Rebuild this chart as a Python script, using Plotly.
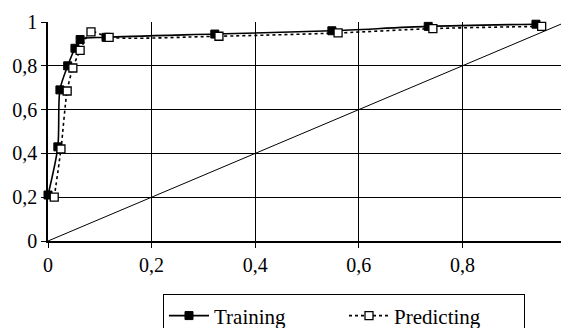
import plotly.graph_objects as go

train_x = [0.0, 0.019, 0.023, 0.038, 0.052, 0.062, 0.112, 0.322, 0.548, 0.734, 0.942]
train_y = [0.21, 0.43, 0.69, 0.80, 0.88, 0.92, 0.93, 0.945, 0.96, 0.98, 0.99]

pred_x = [0.012, 0.025, 0.037, 0.048, 0.062, 0.083, 0.118, 0.33, 0.56, 0.743, 0.953]
pred_y = [0.20, 0.42, 0.685, 0.79, 0.87, 0.955, 0.93, 0.935, 0.95, 0.97, 0.98]

diag_x = [0, 1]
diag_y = [0, 1]

tick_vals = [0, 0.2, 0.4, 0.6, 0.8, 1]

font = dict(family="Liberation Serif, Times New Roman, serif", size=20, color="black")
legend_font = dict(family="Liberation Serif, Times New Roman, serif", size=21, color="black")

fig = go.Figure()
fig.add_trace(go.Scatter(x=diag_x, y=diag_y, mode="lines",
                         line=dict(color="black", width=1), showlegend=False,
                         hoverinfo="skip", cliponaxis=False))
fig.add_trace(go.Scatter(x=train_x, y=train_y, mode="lines+markers", name="Training",
                         line=dict(color="black", width=1.6, shape="spline", smoothing=0.8),
                         marker=dict(symbol="square", size=8, color="black",
                                     line=dict(color="black", width=1)),
                         cliponaxis=False))
fig.add_trace(go.Scatter(x=pred_x, y=pred_y, mode="lines+markers", name="Predicting",
                         line=dict(color="black", width=1.6, dash="dot", shape="spline", smoothing=0.8),
                         marker=dict(symbol="square", size=8, color="white",
                                     line=dict(color="black", width=1.3)),
                         cliponaxis=False))

axis_common = dict(range=[0, 1], tickvals=tick_vals, showgrid=True, gridcolor="black",
                   gridwidth=1, showline=True, linecolor="black", linewidth=1.5,
                   ticks="outside", ticklen=5, tickcolor="black", tickwidth=1,
                   zeroline=False, tickfont=font, automargin=False,
                   ticklabeloverflow="allow")

fig.update_xaxes(**axis_common)
fig.update_yaxes(**axis_common)

fig.update_layout(
    width=561, height=320,
    margin=dict(l=40, r=3, t=14, b=87, autoexpand=False),
    paper_bgcolor="white", plot_bgcolor="white",
    separators=", ",
    font=font,
    legend=dict(orientation="h", x=0.222, y=-0.244, xanchor="left", yanchor="top",
                bordercolor="black", borderwidth=1, bgcolor="white",
                font=legend_font, itemwidth=40, tracegroupgap=0,
                entrywidth=125, entrywidthmode="pixels"),
)

fig.write_html("out.html")
